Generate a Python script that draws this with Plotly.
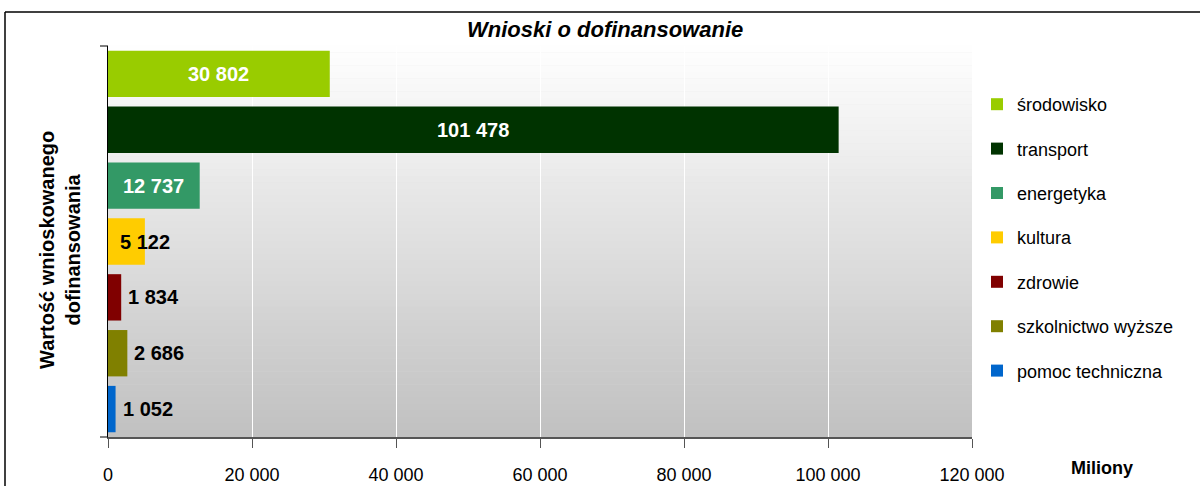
import plotly.graph_objects as go

categories = ["środowisko", "transport", "energetyka", "kultura", "zdrowie",
              "szkolnictwo wyższe", "pomoc techniczna"]
values = [30802, 101478, 12737, 5122, 1834, 2686, 1052]
colors = ["#99CC00", "#003300", "#339966", "#FFCC00", "#800000", "#808000", "#0066CC"]
label_inside = [True, True, True, False, False, False, False]
x_ticks = [0, 20000, 40000, 60000, 80000, 100000, 120000]

W, H = 1200, 486
L, R, T, B = 108, 972, 46, 437
pw, ph = R - L, B - T

def px_x(p):
    return (p - L) / pw

def px_y(p):
    return (B - p) / ph

def fmt(v):
    return f"{v:,}".replace(",", " ")

fig = go.Figure()
for i, (c, v, col) in enumerate(zip(categories, values, colors)):
    fig.add_trace(go.Bar(
        x=[v], y=[c], orientation="h", name=c,
        marker=dict(color=col, line=dict(width=0)),
        legendgroup=str(i), hoverinfo="x+y",
    ))

annotations = []
for c, v, inside in zip(categories, values, label_inside):
    if inside:
        annotations.append(dict(x=v / 2, y=c, xref="x", yref="y", text=f"<b>{fmt(v)}</b>",
                                showarrow=False, xanchor="center",
                                font=dict(family="Liberation Sans", size=20, color="white")))
    else:
        anchor = "center" if v > 4000 else "left"
        annotations.append(dict(x=v, y=c, xref="x", yref="y", text=f"<b>{fmt(v)}</b>",
                                showarrow=False, xanchor=anchor,
                                xshift=0 if anchor == "center" else 5,
                                font=dict(family="Liberation Sans", size=20, color="black")))

annotations.append(dict(x=px_x(605), y=px_y(30), xref="paper", yref="paper",
                        text="<b><i>Wnioski o dofinansowanie</i></b>", showarrow=False,
                        xanchor="center", yanchor="middle",
                        font=dict(family="Liberation Sans", size=22, color="black")))
annotations.append(dict(x=px_x(60), y=px_y(250), xref="paper", yref="paper",
                        text="<b>Wartość wnioskowanego<br>dofinansowania</b>", showarrow=False,
                        textangle=-90, xanchor="center", yanchor="middle",
                        font=dict(family="Liberation Sans", size=20, color="black")))
annotations.append(dict(x=px_x(1102), y=px_y(468), xref="paper", yref="paper",
                        text="<b>Miliony</b>", showarrow=False,
                        xanchor="center", yanchor="middle",
                        font=dict(family="Liberation Sans", size=18, color="black")))

# gradient background (white at top to grey at bottom)
shapes = []
n = 60
for k in range(n):
    t = (k + 0.5) / n  # 0 at top, 1 at bottom
    g = round(255 - (255 - 192) * t)
    shapes.append(dict(type="rect", xref="x domain", yref="y domain",
                       x0=0, x1=1, y0=1 - (k + 1) / n, y1=1 - k / n + 0.001,
                       fillcolor=f"rgb({g},{g},{g})", line=dict(width=0), layer="below"))
# outer chart border (left and top edges; the rest runs off the picture)
shapes.append(dict(type="line", xref="paper", yref="paper",
                   x0=px_x(5), x1=px_x(5), y0=px_y(486), y1=px_y(12),
                   line=dict(color="black", width=1.5)))
shapes.append(dict(type="line", xref="paper", yref="paper",
                   x0=px_x(5), x1=px_x(1200), y0=px_y(12), y1=px_y(12),
                   line=dict(color="black", width=1.5)))
# small category ticks at top and bottom of the category axis
for yy in (0, 1):
    shapes.append(dict(type="line", xref="paper", yref="y domain",
                       x0=px_x(100), x1=0, y0=yy, y1=yy,
                       line=dict(color="black", width=1)))

fig.update_layout(
    width=W, height=H,
    margin=dict(l=L, r=W - R, t=T, b=H - B, autoexpand=False),
    paper_bgcolor="white", plot_bgcolor="#e0e0e0",
    barmode="relative", bargap=0.17,
    separators=", ",
    showlegend=True,
    legend=dict(x=px_x(977), y=px_y(86), xanchor="left", yanchor="top",
                font=dict(family="Liberation Sans", size=18, color="black"),
                tracegroupgap=18, traceorder="grouped",
                bgcolor="rgba(0,0,0,0)"),
    font=dict(family="Liberation Sans", color="black"),
    xaxis=dict(range=[0, 120000], tickvals=x_ticks,
               ticktext=[fmt(v) for v in x_ticks],
               showgrid=True, gridcolor="white", gridwidth=1,
               showline=True, linecolor="#555555", linewidth=1.5,
               ticks="outside", ticklen=9, tickcolor="#555555",
               ticklabelstandoff=12, automargin=False,
               tickfont=dict(family="Liberation Sans", size=18, color="black"),
               zeroline=False, fixedrange=True),
    yaxis=dict(categoryorder="array", categoryarray=categories, autorange="reversed",
               showticklabels=False, showgrid=False, automargin=False,
               showline=True, linecolor="black", linewidth=1,
               ticks="", zeroline=False, fixedrange=True),
    annotations=annotations, shapes=shapes,
)

fig.write_html("out.html", config={"displayModeBar": False},
               post_script="document.body.style.margin='0';")
